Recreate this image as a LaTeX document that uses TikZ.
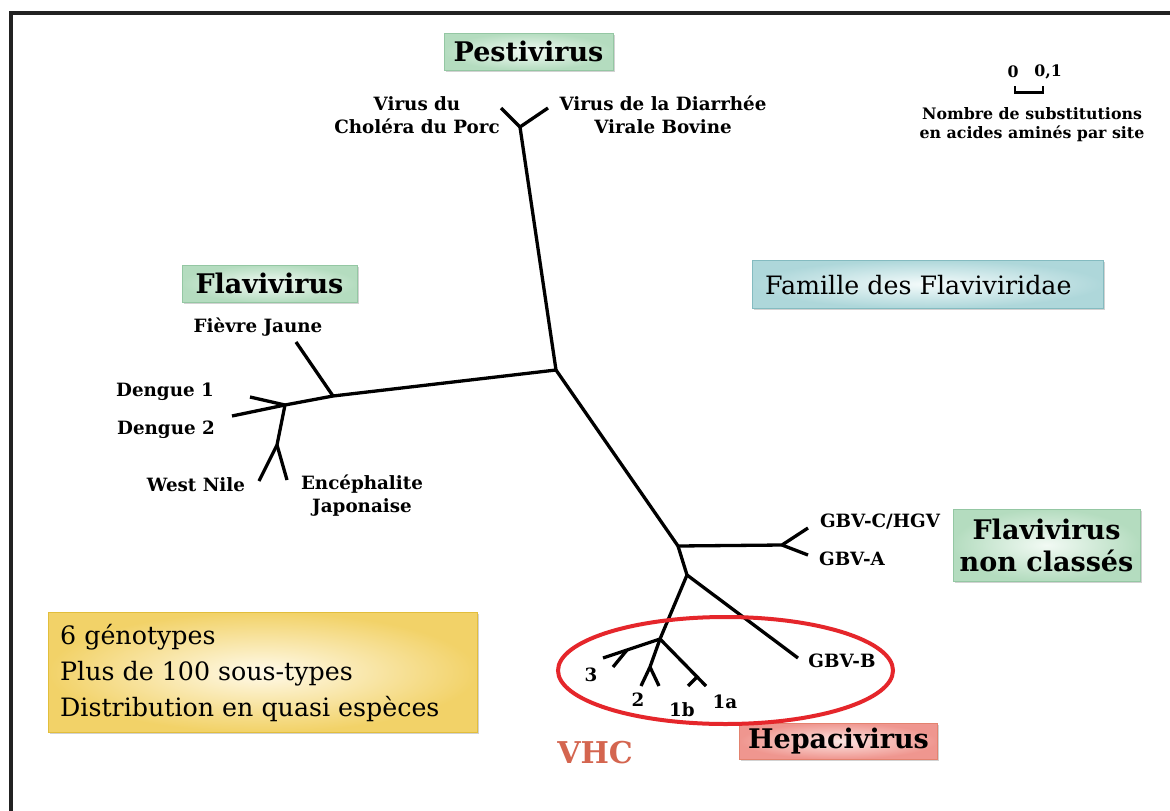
\documentclass[tikz,border=0pt]{standalone}
\usepackage{fontspec}
\setmainfont{DejaVu Serif}
\usetikzlibrary{shadows}
\definecolor{framecol}{HTML}{222222}
\definecolor{greenout}{HTML}{B4DCBF}
\definecolor{greenin}{HTML}{F2FAF4}
\definecolor{greenline}{HTML}{94C7A3}
\definecolor{cyanout}{HTML}{AED7DA}
\definecolor{cyanin}{HTML}{F4FBFB}
\definecolor{cyanline}{HTML}{84BBC0}
\definecolor{yelout}{HTML}{F2D268}
\definecolor{yelin}{HTML}{FFFAEA}
\definecolor{yelline}{HTML}{E2BE3C}
\definecolor{redout}{HTML}{EF968F}
\definecolor{redin}{HTML}{FCE6E3}
\definecolor{redline}{HTML}{E3826F}
\definecolor{ellred}{HTML}{E5262B}
\definecolor{vhccol}{HTML}{D4654F}
\begin{document}
\begin{tikzpicture}[x=1pt,y=-1pt,
  br/.style={line width=3.3pt, line join=round},
  lbl/.style={font=\bfseries\fontsize{18.3}{23}\selectfont, inner sep=0pt, align=center},
  scl/.style={font=\bfseries\fontsize{15.8}{19}\selectfont, inner sep=0pt, align=center},
  boxbase/.style={draw, line width=1pt, inner sep=0pt, align=center,
    drop shadow={shadow xshift=1.5pt, shadow yshift=-2pt, opacity=0.35}},
  greenbox/.style={boxbase, draw=greenline, shading=radial, inner color=greenin, outer color=greenout,
    font=\bfseries\fontsize{27}{32}\selectfont},
  cyanbox/.style={boxbase, draw=cyanline, shading=radial, inner color=cyanin, outer color=cyanout},
  yelbox/.style={boxbase, draw=yelline, shading=radial, inner color=yelin, outer color=yelout},
  redbox/.style={boxbase, draw=redline, shading=radial, inner color=redin, outer color=redout,
    font=\bfseries\fontsize{27}{32}\selectfont},
  regtxt/.style={font=\fontsize{25.3}{36}\selectfont, inner sep=0pt, align=left},
]
\useasboundingbox (0,0) rectangle (1170,811);
\fill[white] (0,0) rectangle (1170,811);
% frame
\draw[line width=4pt, framecol] (10.5,811) -- (10.5,13) -- (1170,13);

% boxes
\node[greenbox, minimum width=169pt, minimum height=37pt] (pesti) at (528.5,51.5) {Pestivirus};
\node[greenbox, minimum width=175pt, minimum height=37pt] (flavi) at (269.5,283.5) {Flavivirus};
\node[greenbox, minimum width=187pt, minimum height=72pt] (nonc) at (1046.5,545) {Flavivirus\\non classés};
\node[cyanbox, minimum width=351pt, minimum height=48pt] (fam) at (927.5,284) {};
\node[regtxt, anchor=west] (famt) at (765,285) {Famille des Flaviviridae};
\node[yelbox, minimum width=429pt, minimum height=120pt] (yel) at (262.5,672) {};
\node[regtxt, anchor=north west] (yelt) at (60,624) {6 génotypes\\Plus de 100 sous-types\\Distribution en quasi espèces};
\node[redbox, minimum width=198pt, minimum height=36pt] (hepa) at (838.5,741) {Hepacivirus};
\node[font=\bfseries\fontsize{30}{34}\selectfont, text=vhccol, inner sep=0pt] (vhc) at (595,753) {VHC};

% scale
\node[scl] (s0) at (1013,72) {0};
\node[scl] (s1) at (1048,72) {0,1};
\coordinate (b1) at (1015,86);
\coordinate (b2) at (1043,86);
\draw[line width=2.5pt] (b1) -- ++(0,6.5) -| (b2);
\node[scl] (stxt) at (1032,125) {Nombre de substitutions\\en acides aminés par site};

% tree coordinates
\coordinate (C) at (556,370);
\coordinate (P) at (520,127);
\coordinate (P1) at (501,108);
\coordinate (P2) at (548,108);
\coordinate (F1) at (333,396);
\coordinate (FJ) at (296,342);
\coordinate (F2) at (285,405);
\coordinate (D1) at (250,397);
\coordinate (D2) at (232,416);
\coordinate (F3) at (277,445);
\coordinate (WN) at (259,481);
\coordinate (JE) at (287,480);
\coordinate (G) at (678,546);
\coordinate (G2) at (782,545);
\coordinate (GC) at (808,528);
\coordinate (GA) at (808,555);
\coordinate (H) at (687,575);
\coordinate (GB) at (798,658);
\coordinate (V) at (660,639);
\coordinate (T3a) at (603,658);
\coordinate (T3j) at (627,650);
\coordinate (T3b) at (613,667);
\coordinate (T2j) at (650,667);
\coordinate (T2a) at (641,686);
\coordinate (T2b) at (659,686);
\coordinate (T1a) at (706,686);
\coordinate (T1j) at (697,677);
\coordinate (T1b) at (688,686);

% branches
\draw[br] (P1) -- (P) -- (P2);
\draw[br] (P) -- (C);
\draw[br] (C) -- (F1) -- (F2) -- (D2);
\draw[br] (F1) -- (FJ);
\draw[br] (F2) -- (D1);
\draw[br] (F2) -- (F3) -- (WN);
\draw[br] (F3) -- (JE);
\draw[br] (C) -- (G) -- (G2) -- (GC);
\draw[br] (G2) -- (GA);
\draw[br] (G) -- (H) -- (GB);
\draw[br] (H) -- (V) -- (T3a);
\draw[br] (T3j) -- (T3b);
\draw[br] (V) -- (T2j) -- (T2a);
\draw[br] (T2j) -- (T2b);
\draw[br] (V) -- (T1a);
\draw[br] (T1j) -- (T1b);

% labels
\node[lbl] (lcp) at (417,115) {Virus du\\Choléra du Porc};
\node[lbl] (lbvd) at (663,115) {Virus de la Diarrhée\\Virale Bovine};
\node[lbl] (lfj) at (258,327) {Fièvre Jaune};
\node[lbl] (ld1) at (165,392) {Dengue 1};
\node[lbl] (ld2) at (166,430) {Dengue 2};
\node[lbl] (lwn) at (196,485) {West Nile};
\node[lbl] (lje) at (362,496) {Encéphalite\\Japonaise};
\node[lbl] (lgc) at (880,522) {GBV-C/HGV};
\node[lbl] (lga) at (852,559) {GBV-A};
\node[lbl] (lgb) at (842,661) {GBV-B};
\node[lbl] (l3) at (591,675) {3};
\node[lbl] (l2) at (638,700) {2};
\node[lbl] (l1b) at (682,710) {1b};
\node[lbl] (l1a) at (725,702) {1a};

% ellipse
\draw[ellred, line width=4pt] (725.5,670.5) ellipse [x radius=167.5, y radius=53.5];
\end{tikzpicture}
\end{document}
